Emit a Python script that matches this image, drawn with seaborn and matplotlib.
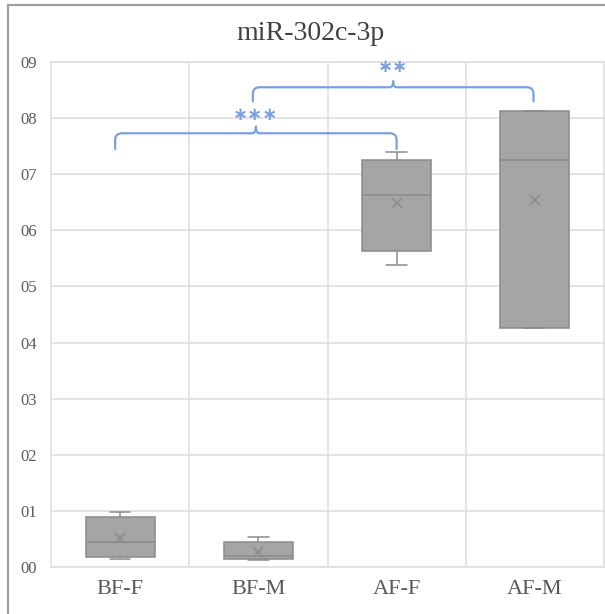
import numpy as np
import pandas as pd
import matplotlib
matplotlib.use("Agg")
import matplotlib.pyplot as plt
from matplotlib.path import Path
from matplotlib.patches import PathPatch, Rectangle
import seaborn as sns

# ---------------- data ----------------
groups = ["BF-F", "BF-M", "AF-F", "AF-M"]
mins = [0.0138, 0.0125, 0.5375, 0.4255]
q1s = [0.0173, 0.0138, 0.563, 0.4255]
medians = [0.0446, 0.0202, 0.663, 0.725]
q3s = [0.0898, 0.0452, 0.725, 0.812]
maxs = [0.0988, 0.0541, 0.739, 0.812]
means = [0.0513, 0.0268, 0.649, 0.654]

ytick_values = [0.0, 0.1, 0.2, 0.3, 0.4, 0.5, 0.6, 0.7, 0.8, 0.9]
ytick_labels = ["00", "01", "02", "03", "04", "05", "06", "07", "08", "09"]
title = "miR-302c-3p"

# significance brackets: (left group, right group, label)
sig_pairs = [("BF-F", "AF-F", "∗∗∗"), ("BF-M", "AF-M", "∗∗")]

# ---------------- build long table ----------------
rows = []
for g, a, b, c, d, e in zip(groups, mins, q1s, medians, q3s, maxs):
    for v in (a, b, c, d, e):
        rows.append({"group": g, "value": v})
df = pd.DataFrame(rows)

sns.set_theme(style="white")
plt.rcParams["font.family"] = ["Liberation Serif", "DejaVu Serif"]

W, H = 605, 614
fig = plt.figure(figsize=(W / 100, H / 100), dpi=100)
ax = fig.add_axes([51 / W, 1 - 567 / H, (604 - 51) / W, (567 - 62) / H])

box_fill = "#a5a5a5"
line_col = "#8a8a8a"

sns.boxplot(data=df, x="group", y="value", order=groups, ax=ax,
            color=box_fill, saturation=1, linecolor=line_col, linewidth=1.1,
            width=0.5, whis=(0, 100), capwidths=0.15, showfliers=False)

sns.pointplot(x=groups, y=means, order=groups, ax=ax, linestyle="none",
              marker="x", markersize=7, markeredgewidth=1.1, color=line_col,
              errorbar=None)

# ---------------- axes styling ----------------
grid_col = "#dcdcdc"
ax.set_ylim(0, 0.9)
ax.set_xlim(-0.5, 3.5)
ax.set_yticks(ytick_values)
ax.set_yticklabels(ytick_labels)
ax.set_xticks(range(len(groups)))
ax.set_xticklabels(groups)
ax.set_xticks([0.5, 1.5, 2.5], minor=True)
ax.yaxis.grid(True, color=grid_col, linewidth=1.1)
ax.xaxis.grid(True, which="minor", color=grid_col, linewidth=1.1)
ax.xaxis.grid(False, which="major")
ax.set_axisbelow(True)
for s in ax.spines.values():
    s.set_color(grid_col)
    s.set_linewidth(1.1)
ax.set_xlabel("")
ax.set_ylabel("")
ax.tick_params(axis="y", length=0, pad=10, labelsize=12, labelcolor="#595959")
ax.tick_params(axis="x", length=0, pad=9, labelsize=16, labelcolor="#595959")
ax.tick_params(axis="x", which="minor", length=0)

fig.text(0.514, 1 - 33 / H, title, ha="center", va="center",
         fontsize=20, color="#404040")

# outer chart frame (cropped on right/bottom)
fig.patches.append(Rectangle((8 / W, -0.05), 1.2, 1 - 5 / H + 0.05,
                             transform=fig.transFigure, fill=False,
                             edgecolor="#a0a0a0", linewidth=1.6))

# ---------------- significance braces ----------------
blue = "#7b9fe0"
pos = {g: i for i, g in enumerate(groups)}
brace_specs = [
    # x-offset left, x-offset right, bottom y, horizontal y, tip y, text y
    (-0.036, 0.0, 0.745, 0.773, 0.785, 0.806),
    (-0.04, -0.01, 0.83, 0.855, 0.866, 0.891),
]
rx, ry, rc = 0.05, 0.012, 0.025
for (ga, gb, lab), (dxa, dxb, yb, yh, yt, ytxt) in zip(sig_pairs, brace_specs):
    x0 = pos[ga] + dxa
    x1 = pos[gb] + dxb
    xc = (x0 + x1) / 2
    verts = [(x0, yb), (x0, yh - ry), (x0, yh), (x0 + rx, yh),
             (xc - rc, yh), (xc, yh), (xc, yt), (xc, yh), (xc + rc, yh),
             (x1 - rx, yh), (x1, yh), (x1, yh - ry), (x1, yb)]
    codes = [Path.MOVETO, Path.LINETO, Path.CURVE3, Path.CURVE3,
             Path.LINETO, Path.CURVE3, Path.CURVE3, Path.CURVE3, Path.CURVE3,
             Path.LINETO, Path.CURVE3, Path.CURVE3, Path.LINETO]
    ax.add_patch(PathPatch(Path(verts, codes), fill=False, edgecolor=blue,
                           linewidth=1.6, capstyle="round", joinstyle="round",
                           clip_on=False, zorder=5))
    ax.text(xc, ytxt, lab, ha="center", va="center", color=blue,
            fontsize=13, family=["DejaVu Sans"], fontweight="bold", zorder=5)

fig.savefig("out.png", dpi=100, facecolor="white")
